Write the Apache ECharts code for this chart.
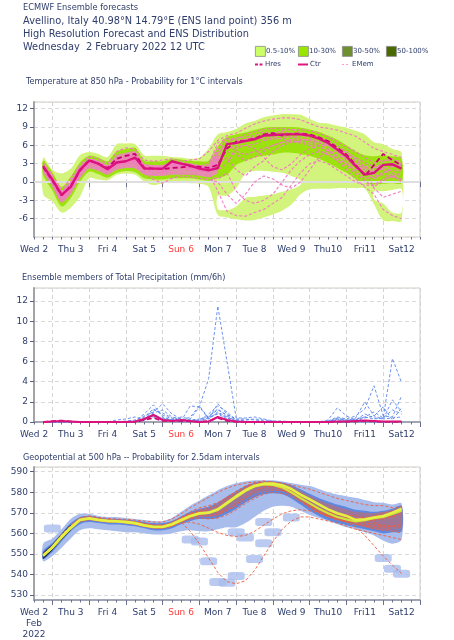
<!DOCTYPE html>
<html><head><meta charset="utf-8">
<script src="https://cdn.jsdelivr.net/npm/echarts@6/dist/echarts.min.js"></script>
<style>html,body{margin:0;padding:0;background:#fff}#c{width:454px;height:640px}</style>
</head><body><div id="c"></div>
<script>
// ---------- axis categories (hours since Wed 2 00 UTC) ----------
const axisHours = [12,18,24,30,36,42,48,54,60,66,72,78,84,90,96,102,108,114,120,126,132,138,144,150,156,162,168,174,180,186,192,198,204,210,216,222,228,234,240,246,252,258,264];
const hours = [18,24,30,36,42,48,54,60,66,72,78,84,90,96,102,108,114,120,126,132,138,144,150,156,162,168,174,180,186,192,198,204,210,216,222,228,234,240,246,252];
const dayLabelHours = [12,36,60,84,108,132,156,180,204,228,252];
const dayLabels = ['Wed 2','Thu 3','Fri 4','Sat 5','Sun 6','Mon 7','Tue 8','Wed 9','Thu10','Fri11','Sat12'];

// ---------- Temperature 850 hPa ----------
const tempCtr = [2.6,0.4,-2.1,-0.8,2.0,3.5,3.0,2.1,3.2,3.4,4.0,2.2,2.2,2.2,3.4,3.0,2.7,2.2,1.9,2.3,6.2,6.4,6.7,7.0,7.6,7.7,7.8,7.8,7.8,7.6,7.1,6.4,5.3,4.2,2.6,1.2,1.5,2.8,2.9,2.2];
const tempHres = [2.4,0.2,-2.2,-0.6,1.8,3.6,3.0,2.3,3.8,4.3,4.6,2.3,2.2,2.1,2.3,2.4,2.6,2.5,2.3,2.8,5.5,6.6,6.8,7.1,7.8,8.0,7.6,7.9,7.9,7.8,7.3,6.7,5.6,4.5,2.8,1.0,2.8,4.6,3.6,2.7];
const tempOuterHi = [4.0,2.0,1.4,2.2,4.4,4.9,4.6,4.1,6.2,6.3,6.2,4.4,4.3,4.3,4.1,4.0,3.8,4.0,5.5,7.8,8.2,8.7,9.6,10.0,10.6,10.9,11.1,11.1,11.0,10.3,9.7,9.6,9.2,8.9,8.4,7.8,6.5,6.2,5.4,4.8];
const tempOuterLo = [-2.0,-3.2,-5.0,-4.2,-2.4,0.6,0.4,0.3,1.2,1.4,1.2,0.1,-0.5,-0.2,0.1,0.1,-0.2,-0.3,-0.8,-5.4,-5.8,-6.1,-6.3,-6.2,-5.8,-5.3,-4.7,-3.7,-2.0,-1.2,-1.1,-1.1,-1.0,-1.0,-1.0,-1.1,-3.7,-6.3,-6.4,-6.4];
const tempHoleHi = [null,null,null,null,null,null,null,null,null,null,null,null,null,null,null,null,null,null,null,-2.3,-2.2,-1.0,1.4,1.8,1.8,1.7,1.5,1.0,0.3,null,null,null,null,null,null,null,-1.5,-1.5,-1.3,-1.2];
const tempHoleLo = [null,null,null,null,null,null,null,null,null,null,null,null,null,null,null,null,null,null,null,-4.4,-4.6,-4.0,-2.6,-2.4,-2.2,-2.0,-1.6,-1.2,-0.5,null,null,null,null,null,null,null,-2.8,-3.5,-5.0,-5.0];
const tempPinkHi = [3.0,1.0,-1.4,0.3,2.6,3.8,3.5,2.8,4.4,4.8,5.0,3.0,2.8,2.8,3.3,3.2,3.0,2.8,2.8,5.0,null,null,null,null,null,null,null,null,null,null,null,null,null,null,null,null,null,null,null,null];
const tempPinkLo = [1.6,-0.8,-3.4,-2.0,0.6,2.2,1.8,1.2,2.0,2.3,2.2,1.2,1.0,1.0,1.2,1.2,1.2,1.0,0.8,1.5,null,null,null,null,null,null,null,null,null,null,null,null,null,null,null,null,null,null,null,null];
const tempMidHi = [3.5,1.6,-0.8,0.9,3.2,4.3,4.0,3.4,5.0,5.4,5.6,3.5,3.4,3.4,3.8,3.7,3.5,3.4,3.5,5.8,7.4,7.8,8.1,8.5,8.9,9.0,9.0,9.0,8.9,8.6,8.2,7.6,6.9,6.0,5.0,4.4,4.2,4.4,4.2,3.8];
const tempMidLo = [1.1,-1.4,-4.0,-2.6,0.0,1.7,1.3,0.7,1.5,1.8,1.6,0.6,0.4,0.4,0.6,0.6,0.6,0.4,0.2,0.6,1.2,2.8,3.5,4.0,4.3,4.5,4.8,4.8,4.6,4.3,3.8,3.1,2.3,1.5,0.5,-0.2,-0.4,-0.3,-0.2,-0.2];
const tm1 = [2.8,0.8,-1.6,0.0,2.4,3.3,2.6,1.6,2.8,3.6,4.4,2.6,2.0,1.6,2.0,2.4,2.0,1.8,1.6,-1.5,-4.8,-5.5,-5.6,-5.0,-4.5,-3.5,-2.5,-0.5,1.5,3.0,3.5,3.0,2.0,1.0,0.0,-0.5,-0.5,0.5,1.0,0.5];
const tm2 = [2.2,-0.4,-3.2,-1.6,1.0,2.6,2.2,1.4,2.4,2.6,2.6,1.4,1.2,1.4,1.6,1.4,1.2,1.4,1.0,0.5,1.5,-1.5,-3.0,-3.5,-3.0,-2.0,0.0,2.0,3.5,4.5,5.0,4.5,3.5,2.0,0.5,-0.8,-2.0,-4.5,-5.5,-6.0];
const tm3 = [3.2,1.2,-1.2,0.6,2.8,4.2,3.8,3.0,5.0,5.6,5.4,3.6,3.4,3.6,3.8,3.4,3.6,3.8,5.0,6.8,7.6,8.0,8.8,9.5,10.0,10.3,10.5,10.5,10.2,9.6,9.0,8.8,8.5,8.0,7.5,6.5,5.5,5.0,4.5,4.0];
const tm4 = [2.0,0.0,-2.6,-1.2,1.6,3.0,2.8,2.0,3.0,3.0,3.4,1.8,1.8,2.4,3.0,2.8,2.6,2.4,2.4,3.0,4.0,2.0,1.0,2.5,3.5,5.0,6.0,6.5,6.8,7.0,6.5,5.5,4.0,3.0,2.0,2.5,3.0,2.0,1.0,0.0];
const tm5 = [2.6,0.6,-1.8,-0.4,2.2,3.8,3.4,2.6,3.6,4.2,4.8,2.8,2.6,2.2,2.6,3.2,3.0,2.6,2.2,2.0,3.0,5.5,6.0,5.5,4.0,2.5,2.0,3.0,4.5,5.5,6.0,6.0,5.5,4.5,3.5,2.0,-1.0,-2.5,-2.0,-1.5];
const tm6 = [2.4,0.2,-2.8,-1.4,1.4,3.2,2.4,1.8,2.6,3.0,3.0,1.6,0.4,-0.2,0.6,1.0,0.8,0.6,0.4,0.0,-2.0,-3.5,-2.0,0.0,1.0,0.5,-0.5,-1.0,0.0,2.0,4.0,5.0,5.0,4.0,3.0,1.5,0.5,1.5,2.5,3.0];
const tm7 = [2.6,0.4,-2.0,-0.6,2.0,3.4,3.0,2.2,3.4,3.8,4.0,2.2,2.2,2.4,3.0,2.8,2.6,2.4,2.6,5.8,7.0,7.2,7.4,7.6,8.2,8.0,8.2,8.0,8.0,7.8,7.4,6.8,6.0,5.0,3.8,2.5,2.0,3.4,3.8,3.2];
const tm8 = [2.4,0.0,-2.4,-1.0,1.8,3.2,2.8,2.0,3.0,3.2,3.6,2.0,1.6,1.8,2.4,2.4,2.2,2.0,1.8,4.0,5.5,5.8,6.0,6.2,6.8,7.0,7.2,7.4,7.2,6.8,6.0,5.0,4.0,3.0,1.8,0.6,0.8,1.2,0.8,0.4];
const tm9 = [2.7,0.6,-1.8,-0.2,2.2,3.6,3.2,2.4,3.6,4.0,4.4,2.4,2.4,2.6,3.2,3.0,2.8,2.6,3.0,6.4,7.2,6.8,7.0,7.4,7.0,7.2,7.6,7.4,7.6,7.2,6.6,6.0,5.2,4.6,3.4,2.4,1.6,2.2,2.6,2.8];
const tm10 = [2.3,0.2,-2.6,-1.0,1.6,3.0,2.6,1.8,2.8,3.0,3.2,1.8,1.4,1.6,2.0,2.2,2.0,1.8,1.6,3.5,5.0,4.5,3.5,4.0,5.0,6.0,6.5,7.0,7.0,6.8,6.5,6.0,5.0,3.5,2.5,1.5,1.8,2.5,1.5,1.0];
const tm11 = [2.5,0.4,-2.2,-0.8,2.0,3.4,3.0,2.2,3.2,3.6,3.8,2.2,2.0,2.0,2.6,2.6,2.4,2.2,2.0,3.5,6.0,6.5,7.0,7.2,7.8,8.0,8.4,8.6,8.6,8.4,8.0,7.4,6.6,5.8,5.0,4.0,3.2,3.6,3.4,3.0];
const tm12 = [2.6,0.5,-2.0,-0.5,2.1,3.5,3.1,2.3,3.3,3.5,3.8,2.3,2.3,2.2,2.8,2.6,2.5,2.3,2.2,4.5,6.5,5.0,4.5,5.0,5.5,6.0,6.5,6.6,6.4,6.0,5.2,4.5,3.6,2.6,1.4,0.2,-0.8,0.2,1.0,1.5];
const tm13 = [2.5,0.3,-2.3,-0.9,1.9,3.3,2.9,2.1,3.1,3.3,3.5,2.1,1.9,1.9,2.5,2.5,2.3,2.1,2.0,4.8,6.0,6.2,6.6,7.0,7.4,7.4,7.0,6.8,6.6,6.4,5.8,5.2,4.4,3.8,3.0,2.0,1.0,1.6,2.0,1.8];
const tm14 = [2.7,0.7,-1.7,-0.1,2.3,3.7,3.3,2.5,3.7,4.1,4.3,2.5,2.5,2.5,2.9,2.9,2.7,2.5,2.4,5.2,6.6,7.0,7.8,8.2,8.6,8.8,8.8,8.6,8.2,7.6,7.0,6.2,5.6,4.8,4.0,3.2,2.4,2.8,3.0,2.6];

// ---------- Precipitation (mm/6h) ----------
const precCtr = [0,0.05,0.1,0.05,0,0,0,0,0,0,0.05,0.3,0.7,0.2,0.1,0.2,0.1,0,0.05,0.5,0.2,0.05,0,0,0,0,0,0,0,0,0,0,0.05,0.05,0.1,0.15,0.1,0.05,0.05,0.05];
const precHres = [0,0.1,0.15,0.05,0,0,0,0,0,0,0,0.2,0.4,0.1,0.1,0.1,0.05,0,0.1,0.4,0.1,0,0,0,0,0,0,0,0,0,0,0,0,0,0.05,0.1,0.05,0,0,0];
const pm1 = [0,0,0,0,0,0,0,0,0,0,0,0.2,0.8,0.3,0.2,0.5,0.3,1.5,4.3,11.5,6.0,0.4,0.4,0.5,0.3,0.1,0.1,0,0,0,0,0,0,0,0,0,0,0,0,0];
const pm2 = [0,0,0,0,0,0,0,0,0,0,0.1,0.8,1.7,0.5,0.2,0.1,1.6,1.5,0.3,1.8,0.8,0.2,0.1,0,0,0,0,0,0,0,0,0,0,0,0,0,0,0,0,0];
const pm3 = [0,0,0,0,0,0,0,0,0,0.1,0.2,0.6,1.0,1.8,0.8,0.3,0.2,0.3,0.5,1.3,0.6,0.1,0,0,0,0,0,0,0,0,0,0.1,0.3,0.1,0.4,2.0,0.6,0.3,0.4,0.5];
const pm4 = [0,0,0,0,0,0,0,0,0.2,0.3,0.5,0.2,1.2,0.9,0.4,0.1,0.1,0.2,0.8,1.6,1.0,0.2,0.2,0.3,0.2,0.1,0,0,0,0,0,0.2,1.4,0.6,0.2,0.5,0.3,0.4,1.2,0.8];
const pm5 = [0,0,0,0,0,0,0,0,0,0,0,0.3,0.6,0.4,0.1,0,0,0.1,0.4,0.8,0.3,0,0,0,0,0,0,0,0,0,0,0,0.2,0.1,0.3,0.5,1.0,0.4,6.3,3.9];
const pm6 = [0,0,0,0,0,0,0,0,0,0,0,0.4,0.9,1.2,0.5,0.3,0.2,0.1,0.3,1.0,0.5,0.1,0,0,0,0,0,0,0,0,0,0.1,0.5,0.3,0.6,1.3,3.6,0.6,0.5,2.6];
const pm7 = [0,0,0,0,0,0,0,0,0,0,0,0.2,0.5,0.3,0.2,0.1,0.5,1.6,0.4,0.9,0.4,0.1,0,0,0,0,0,0,0,0,0,0,0.3,0.2,0.2,0.8,0.4,0.3,2.2,1.0];
const pm8 = [0,0,0,0,0,0,0,0,0,0,0,0.5,1.3,0.7,0.3,0.1,0.1,0.2,0.6,1.2,0.7,0.3,0.3,0.2,0.1,0,0,0,0,0,0,0,0.4,0.2,0.1,0.4,0.6,1.5,0.2,1.4];

// ---------- Geopotential 500 hPa (dam) ----------
const geoHres = [549.2,553.3,558.5,562.9,566.6,567.4,566.6,566.1,565.9,565.6,565.0,564.0,563.2,563.2,564.5,566.6,568.5,569.8,570.1,571.7,574.9,578.1,581.0,583.2,584.2,584.2,583.4,581.6,578.9,576.5,574.1,571.7,569.8,568.5,566.6,566.9,567.7,568.5,570.1,572.0];
const geoCtr = [549.2,553.0,558.0,562.5,566.4,567.2,566.4,566.0,565.8,565.4,564.8,563.8,563.0,563.0,564.2,566.2,568.2,569.6,570.0,571.4,574.5,577.6,580.6,582.8,583.8,583.6,582.4,580.0,577.2,574.6,572.0,569.8,568.0,566.8,565.8,566.4,567.4,568.0,569.4,571.0];
const geoOuterHi = [555,557.5,562,567,569.5,569.5,568.5,568,568,567.5,567,566.5,566,566,567.5,570.5,573.5,576,578.5,581,583,584.5,585.3,585.8,585.8,585.8,585.3,584.5,583.7,583,581.6,580,578.9,578.1,577.3,576.2,575.2,574.9,574,574.5];
const geoOuterLo = [546.5,549,553,557.5,561.5,562.5,562,561.5,561,560.5,560.5,560,559.5,559.5,560,561,561.5,561,561,562,563,563,565,568,571,573,573.5,573,571,569,567.5,566,564.5,563,562,560.5,559,556.5,555,557];
const geoMidHi = [551.5,555.5,560,565,568,568.5,567.8,567.2,567,566.8,566.3,565.6,565,565,566,568.2,570.5,572,573,575,578,580.5,583,584.6,585.2,585.3,584.8,583.6,581.5,579.3,577.2,575.5,574,572.8,571.5,571,570.5,571,572,573.5];
const geoMidLo = [547.5,551,556,561,564.5,565.5,565,564.5,564.3,564,563.5,562.5,561.5,561.5,562.5,564.5,566,567,567,567.5,569.5,572,575,577.5,579,579.5,579,577,574,571,568.5,566.5,565,564,563,562,561,560,560.5,561];
const geoRedHi = [550.5,554.5,559.5,564,567.6,568.3,567.5,567,566.8,566.5,566,565.2,564.5,564.5,565.6,567.8,570,571.4,572.2,574,577.5,580,582.5,584.2,585,585,584.4,583,580.8,578.4,576.3,574.5,573,571.8,570.5,570,569.8,570.5,571.5,573];
const geoRedLo = [548,552,557,561.8,565.3,566.2,565.7,565.2,565,564.7,564,563,562.3,562.2,563.2,565.2,566.8,567.8,568,568.5,571,573.5,576.5,579,580.5,581,580.5,578.5,575.5,572.5,570,568,566.5,565.2,564,563,562,561.5,561.8,562.5];
const geoDarkHi = [550.6,554.6,559.8,564.2,null,null,null,null,null,null,null,null,null,null,null,null,null,null,null,null,null,null,null,null,null,null,null,null,null,null,null,null,null,null,null,null,null,null,null,null];
const geoDarkLo = [547.6,551.8,557.0,561.5,null,null,null,null,null,null,null,null,null,null,null,null,null,null,null,null,null,null,null,null,null,null,null,null,null,null,null,null,null,null,null,null,null,null,null,null];
const geoBlobHours = [22,115,121,126,133.5,138,146.6,155.3,161.8,167.3,161.8,146.6,149.8,177,240,247.7,249];
const geoBlobValues = [562.4,557,556,546.4,536.4,536,539.3,547.6,555.2,560.5,565.6,560.5,558,567.7,548,542.8,540.4];
const gm1 = [549,553,558.5,563,566.5,567.5,566.5,566,565.5,565,564.5,563.5,563,563,564,565.5,561,555,548,541,536.5,535.5,537,542,549,556,562,566,568,568,567,566,565,563.5,562,561,560,559,558,557];
const gm2 = [549.5,553.5,559,563.5,567,567.5,566.8,566.3,566,565.8,565.3,564.5,563.5,563.5,565,567,569,570,570.5,572,575,578,580.5,582.5,583.5,583,581.5,579,576,573,570.5,568.5,567,565.5,563,559,554,549,544.5,540.5];
const gm3 = [550,554,559.5,564,567.5,568.5,567.8,567.3,567,566.8,566.5,566,565.5,565.5,567,569.5,572.5,575,577.5,580,582,583.5,584.5,585,585,585,584.5,583.5,582.5,581.5,580,578.5,577,576,575,574,573.5,573.5,572.5,573];
const gm4 = [549,553,558,562.5,566,567,566.2,565.7,565.5,565,564.3,563.3,562.5,562.5,563.5,565,565.5,564.5,562.5,560.5,559,558.5,559,561,564,567,569.5,571,571.5,571,570,568.5,567,565.5,564.5,563.5,562.5,561.5,561,561.5];
const gm5 = [549.5,553.8,558.8,563.2,566.8,567.6,566.8,566.2,566,565.8,565.2,564.2,563.4,563.6,565.2,567.8,570.5,572.5,573.5,575,577.5,580.5,583,584.8,585.5,585,583.5,581,578,575,572.5,570.5,569,567.5,566,565,564.5,564,563.5,563];
const gm6 = [548.8,552.8,558.2,562.6,566.2,567,566,565.6,565.4,565.2,564.6,563.6,562.8,562.8,563.8,565.5,567,567.5,567,567.5,569,571.5,574.5,577,579,580,579.5,578,575.5,572.5,570,568,566.5,566,566,566.5,567,567.5,568.5,569.5];
const gm7 = [549.3,553.3,558.6,563,566.6,567.4,566.6,566,565.8,565.4,564.8,563.8,563,563,564.5,566.5,568.8,570.5,571.5,573.5,576.5,579.5,582,583.8,584.5,584.3,583,580.5,577.5,574.5,571.5,569,567,565.5,565.5,566,566.5,567,568,570];
const gm8 = [549.6,553.6,558.9,563.3,566.9,567.8,567.2,566.6,566.4,566.2,565.6,564.8,564,564,565.2,567.5,569.5,570.5,570,570.2,571.5,573,575.5,578,580,581,580.8,579.5,577,574,571.5,570,569.5,569,568.5,567.5,565.5,563,561.5,560];
const gm9 = [549.1,553.1,558.3,562.8,566.4,567.2,566.3,565.8,565.6,565.3,564.6,563.4,562.6,562.6,563.6,565.8,567.6,568.6,568.6,569.2,571,574,577.5,580.5,582.5,583,582,579.6,576.4,573.4,570.6,568.6,567.4,566.4,565.2,564,563.4,563,563.6,564.6];
const gm10 = [549.4,553.4,558.7,563.1,566.7,567.6,567,566.4,566.2,566,565.4,564.6,563.8,563.8,565,567.2,569.6,571.4,572.6,574.6,577.6,580.4,582.8,584.2,584.6,584,582.2,579.6,576.6,573.8,571.6,570.2,569,568,567.2,567.6,568.4,569.6,570.6,571.6];

// ---------- helpers ----------
const FONT = 'DejaVu Sans';
const NAVY = '#2e3d6c';
const idxOf = h => (h - 12) / 6;
const cats = axisHours.map(String);
const labelMap = {};
dayLabelHours.forEach((h, i) => { labelMap[String(h)] = dayLabels[i]; });

function band(g, hi, lo, color, opacity, z, smooth) {
  return {
    type: 'custom', xAxisIndex: 2 * g, yAxisIndex: g, z: z, silent: true, clip: true, data: [0],
    renderItem: function (params, api) {
      const children = []; let seg = [];
      const flush = function () {
        if (seg.length > 1) {
          const pts = [];
          seg.forEach(i => pts.push(api.coord([idxOf(hours[i]), hi[i]])));
          for (let k = seg.length - 1; k >= 0; k--) { const i = seg[k]; pts.push(api.coord([idxOf(hours[i]), lo[i]])); }
          children.push({ type: 'polygon', shape: { points: pts, smooth: smooth }, style: { fill: color, opacity: opacity } });
        }
        seg = [];
      };
      hi.forEach((v, i) => { if (v != null && lo[i] != null) seg.push(i); else flush(); });
      flush();
      return { type: 'group', children: children };
    }
  };
}
function line(g, vals, color, width, type, z) {
  return {
    type: 'line', xAxisIndex: 2 * g, yAxisIndex: g, z: z, silent: true, symbol: 'none',
    data: vals.map((v, i) => [idxOf(hours[i]), v]),
    lineStyle: { color: color, width: width, type: type }
  };
}

const grids = [
  { left: 34, right: 34, top: 102, height: 135 },
  { left: 34, right: 34, top: 288, height: 134 },
  { left: 34, right: 34, top: 467, height: 135 }
];
grids.forEach(g => { g.show = true; g.borderColor = '#d2cbc2'; g.borderWidth = 1; g.backgroundColor = 'transparent'; });

const xAxes = [];
[0, 1, 2].forEach(g => {
  xAxes.push({
    type: 'category', gridIndex: g, data: cats, boundaryGap: false, position: 'bottom',
    axisLine: { show: true, lineStyle: { color: '#8a90a4', width: 1.5 } },
    axisTick: { show: true, length: 5, interval: (i, v) => Number(v) % 24 === 0, lineStyle: { color: '#6a7090' } },
    splitLine: { show: true, interval: (i, v) => Number(v) % 24 === 0, lineStyle: { color: '#d4d4d4', type: [4, 3], width: 1 } },
    axisLabel: {
      show: true, interval: (i, v) => labelMap[v] !== undefined, margin: 7, fontFamily: FONT, fontSize: 9, color: NAVY, hideOverlap: false,
      lineHeight: 11,
      formatter: function (v) {
        const t = labelMap[v];
        if (t === undefined) return '';
        if (t === 'Sun 6') return '{r|Sun 6}';
        if (g === 2 && t === 'Wed 2') return 'Wed 2\nFeb\n2022';
        return t;
      },
      rich: { r: { color: '#ff3b3b', fontFamily: FONT, fontSize: 9 } }
    }
  });
  xAxes.push({
    type: 'category', gridIndex: g, data: cats, boundaryGap: false, position: 'bottom',
    axisLine: { show: false }, axisLabel: { show: false }, splitLine: { show: false },
    axisTick: { show: true, length: 2.5, interval: 0, lineStyle: { color: '#6a7090' } }
  });
});

function yAx(g, min, max, interval, splitNumber) {
  const a = {
    type: 'value', gridIndex: g, min: min, max: max,
    axisLine: { show: true, lineStyle: { color: '#a3a3a8', width: 2 } },
    axisTick: { show: true, length: 4, inside: false, lineStyle: { color: '#5a6080' } },
    splitLine: { show: true, lineStyle: { color: '#dadada', type: [4, 3] } },
    axisLabel: { fontFamily: FONT, fontSize: 9, color: NAVY, margin: 6, showMinLabel: g === 1, showMaxLabel: false }
  };
  if (interval) a.interval = interval;
  if (splitNumber) a.splitNumber = splitNumber;
  return a;
}
const yAxes = [yAx(0, -9, 13.1, 3), yAx(1, 0, 13.3, 2), yAx(2, 527.6, 592.3, null, 6)];

const series = [];
// temperature
const outer = band(0, tempOuterHi, tempOuterLo, '#d3f47c', 1, 1, 0.3);
outer.markLine = { silent: true, symbol: 'none', label: { show: false }, lineStyle: { color: '#dedede', width: 2, type: 'solid' }, data: [{ yAxis: 0 }] };
series.push(outer);
series.push(band(0, tempHoleHi, tempHoleLo, '#ffffff', 1, 2, 0.3));
series.push(band(0, tempMidHi, tempMidLo, '#9be20e', 1, 3, 0.3));
series.push(band(0, tempPinkHi, tempPinkLo, '#ef82c4', 0.85, 4, 0.2));
[tm1, tm2, tm3, tm4, tm5, tm6, tm7, tm8, tm9, tm10, tm11, tm12, tm13, tm14].forEach(m => series.push(line(0, m, '#f27ac2', 1.1, [3, 2], 5)));
series.push(line(0, tempHres, '#c8006c', 1.8, [5, 3], 7));
series.push(line(0, tempCtr, '#dc127c', 2.4, 'solid', 8));
// precipitation
[pm1, pm2, pm3, pm4, pm5, pm6, pm7, pm8].forEach(m => series.push(line(1, m, '#5a86ec', 0.9, [3, 2], 5)));
series.push(line(1, precHres, '#c8006c', 1.6, [5, 3], 7));
series.push(line(1, precCtr, '#dc127c', 2.2, 'solid', 8));
// geopotential
series.push(band(2, geoOuterHi, geoOuterLo, '#a9bdec', 1, 1, 0.3));
series.push({
  type: 'scatter', xAxisIndex: 4, yAxisIndex: 2, z: 1, silent: true, symbol: 'roundRect', symbolSize: [17, 8],
  itemStyle: { color: '#a9bdec' },
  data: geoBlobHours.map((h, i) => [idxOf(h), geoBlobValues[i]])
});
series.push(band(2, geoMidHi, geoMidLo, '#5d88e2', 1, 2, 0.3));
series.push(band(2, geoRedHi, geoRedLo, '#f0603c', 0.45, 3, 0.2));
series.push(band(2, geoDarkHi, geoDarkLo, '#1f2e5c', 1, 4, 0.2));
[gm1, gm2, gm3, gm4, gm5, gm6, gm7, gm8, gm9, gm10].forEach(m => series.push(line(2, m, '#ee5c3c', 0.9, [3, 2], 5)));
series.push(line(2, geoCtr, '#cfe53a', 2.2, 'solid', 7));
series.push(line(2, geoHres, '#e6f040', 2.6, 'solid', 8));

// ---------- text & legend (graphic) ----------
const txt = (x, y, s, size, color) => ({ type: 'text', left: x, top: y, style: { text: s, fontFamily: FONT, fontSize: size, fill: color || NAVY } });
const graphics = [
  txt(23, 4, 'ECMWF Ensemble forecasts', 8.3),
  txt(23, 16, 'Avellino, Italy 40.98°N 14.79°E (ENS land point) 356 m', 9.8),
  txt(23, 29, 'High Resolution Forecast and ENS Distribution', 9.8),
  txt(23, 42, 'Wednesday  2 February 2022 12 UTC', 9.8),
  txt(26, 78, 'Temperature at 850 hPa - Probability for 1°C intervals', 8.1),
  txt(22, 274, 'Ensemble members of Total Precipitation (mm/6h)', 8.1),
  txt(23, 454, 'Geopotential at 500 hPa -- Probability for 2.5dam intervals', 8.1)
];
const legBoxes = [['0.5-10%', '#ccff66', 255], ['10-30%', '#99e600', 298], ['30-50%', '#6f8e2e', 342], ['50-100%', '#4a6a00', 386]];
legBoxes.forEach(b => {
  graphics.push({ type: 'rect', left: b[2], top: 46, shape: { width: 10, height: 10 }, style: { fill: b[1], stroke: '#8a8a8a', lineWidth: 0.8 } });
  graphics.push(txt(b[2] + 11, 47.5, b[0], 7));
});
const legLines = [['Hres', 255, 263, [3, 1.5], 2, '#e0157f'], ['Ctr', 298, 308, 'solid', 2, '#e0157f'], ['EMem', 342, 350, [2, 2], 1, '#ff9ccf']];
legLines.forEach(l => {
  graphics.push({ type: 'line', shape: { x1: l[1], y1: 64.5, x2: l[2], y2: 64.5 }, style: { stroke: l[5], lineWidth: l[4], lineDash: l[3] === 'solid' ? null : l[3] } });
  graphics.push(txt(l[2] + 2, 60.5, l[0], 7));
});

const chart = echarts.init(document.getElementById('c'), null, { renderer: 'canvas' });
chart.setOption({
  animation: false,
  backgroundColor: '#ffffff',
  grid: grids,
  xAxis: xAxes,
  yAxis: yAxes,
  series: series,
  graphic: graphics
});
</script>
</body></html>
